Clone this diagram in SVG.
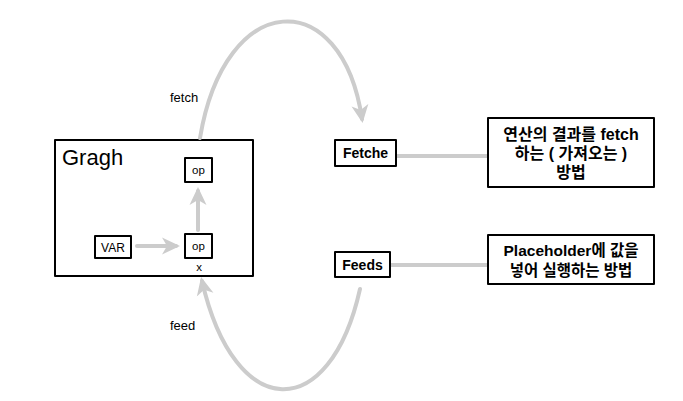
<svg xmlns="http://www.w3.org/2000/svg" width="683" height="401" viewBox="0 0 683 401">
<style>
.box{fill:#fff;stroke:#000;stroke-width:2;stroke-linejoin:round}
.t{font-family:"Liberation Sans","Noto Sans CJK KR",sans-serif;fill:#000}
.b{font-weight:bold}
.c{fill:none;stroke:#cccccc;stroke-width:4;stroke-linecap:round}
</style>
<defs>
<marker id="ah" markerUnits="userSpaceOnUse" markerWidth="20" markerHeight="20" viewBox="0 0 20 20" refX="14" refY="10" orient="auto">
<path d="M0,1.5 L18,10 L0,18.5 L5,10 Z" fill="#cccccc"/>
</marker>
</defs>
<rect width="683" height="401" fill="#fff"/>
<g id="graph">
<rect class="box" x="55" y="140" width="198" height="136"/>
<text class="t" x="62" y="165" font-size="22">Gragh</text>
</g>
<g id="connectors">
<path class="c" d="M137,246 L176,246" marker-end="url(#ah)"/>
<path class="c" d="M198,230 L198,191" marker-end="url(#ah)"/>
<path class="c" d="M200,138 C225,-12 342,-16 362,119" marker-end="url(#ah)"/>
<path class="c" d="M360,289 C330,424 235,424 202,281" marker-end="url(#ah)"/>
<path class="c" d="M397,156 L488,156"/>
<path class="c" d="M391,265 L488,265"/>
<text class="t" x="170" y="102" font-size="13">fetch</text>
<text class="t" x="170" y="330" font-size="13">feed</text>
</g>
<g id="op-top">
<rect class="box" x="185" y="158" width="27" height="24"/>
<text class="t" x="198.5" y="174" font-size="11.5" text-anchor="middle">op</text>
</g>
<g id="op-bottom">
<rect class="box" x="185" y="234" width="27" height="24"/>
<text class="t" x="198.5" y="250" font-size="11.5" text-anchor="middle">op</text>
<text class="t" x="199" y="271" font-size="11.5" text-anchor="middle">x</text>
</g>
<g id="var">
<rect class="box" x="95" y="236" width="36" height="22"/>
<text class="t" x="113" y="251.5" font-size="12" text-anchor="middle">VAR</text>
</g>
<g id="fetche">
<rect class="box" x="335" y="140" width="61" height="26"/>
<text class="t b" x="365.5" y="158" font-size="14" text-anchor="middle">Fetche</text>
</g>
<g id="feeds">
<rect class="box" x="335" y="252" width="55" height="25"/>
<text class="t b" x="362.5" y="269.5" font-size="14" text-anchor="middle">Feeds</text>
</g>
<g id="fetch-desc">
<rect class="box" x="488" y="118" width="166" height="69"/>
<text class="t b" x="571" y="140" font-size="16" text-anchor="middle">연산의 결과를 fetch</text>
<text class="t b" x="571" y="159" font-size="16" text-anchor="middle">하는 ( 가져오는 )</text>
<text class="t b" x="571" y="178" font-size="16" text-anchor="middle">방법</text>
</g>
<g id="feed-desc">
<rect class="box" x="488" y="235" width="166" height="49"/>
<text class="t b" x="571" y="256" font-size="15.5" text-anchor="middle">Placeholder에 값을</text>
<text class="t b" x="571" y="276" font-size="15.5" text-anchor="middle">넣어 실행하는 방법</text>
</g>
</svg>
